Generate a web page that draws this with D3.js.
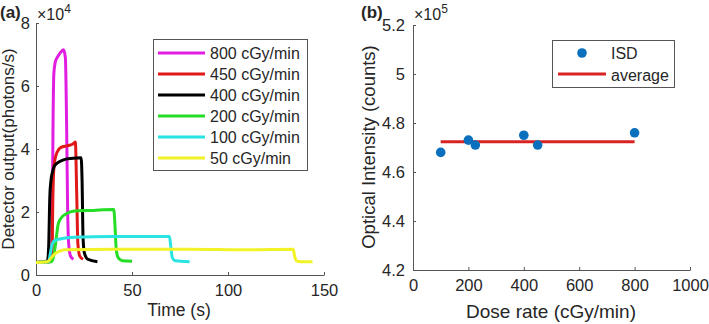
<!DOCTYPE html>
<html>
<head>
<meta charset="utf-8">
<script src="https://cdn.jsdelivr.net/npm/d3@7"></script>
<style>
  body { margin: 0; background: #fff; }
  text { font-family: "Liberation Sans", Arial, sans-serif; fill: #262626; }
  .axis path, .axis line { stroke: #555; stroke-width: 1; }
  .axis text { font-size: 16.5px; fill: #262626; }
</style>
</head>
<body>
<svg id="chart" width="709" height="324"></svg>
<script>
// panel (a): detector output vs time, values in units of 1e4 photons/s
var labelsA = ['800 cGy/min', '450 cGy/min', '400 cGy/min', '200 cGy/min', '100 cGy/min', '50 cGy/min']
var colorsA = ['#e21de2', '#e01818', '#000000', '#26dd26', '#2ae3e3', '#f2f229']

var time800 = [0, 7, 8, 8.5, 8.9, 9.3, 10, 11, 12, 13, 14.3, 15.3, 16, 16.5, 17, 18, 19.5]
var out800  = [0.4, 0.42, 0.5, 2, 5, 6.4, 6.75, 6.9, 7.0, 7.08, 7.15, 6.9, 4.5, 2.0, 1.0, 0.6, 0.5]

var time450 = [0, 7, 8.3, 8.8, 9.3, 10, 11, 13, 16, 19, 20.5, 21.2, 21.8, 22.8, 24.5]
var out450  = [0.4, 0.42, 0.6, 2.5, 3.4, 3.7, 3.9, 4.05, 4.1, 4.15, 4.22, 2.6, 1.0, 0.6, 0.5]

var time400 = [0, 6, 6.6, 7.2, 7.8, 8.5, 9.5, 11, 14, 18, 23.5, 24, 24.5, 25.2, 27, 32]
var out400  = [0.4, 0.45, 0.9, 2.5, 3.0, 3.25, 3.45, 3.55, 3.65, 3.7, 3.72, 3.0, 1.2, 0.7, 0.5, 0.42]

var time200 = [0, 8, 9, 10, 10.8, 11.5, 13, 16, 20, 25, 30, 35, 40.5, 41.2, 41.8, 42.8, 45, 50]
var out200  = [0.4, 0.42, 0.55, 0.9, 1.3, 1.6, 1.8, 1.95, 2.03, 2.05, 2.05, 2.07, 2.08, 1.5, 0.8, 0.55, 0.45, 0.44]

var time100 = [0, 6.5, 7.5, 8.5, 10, 13, 20, 40, 60, 69.5, 70.2, 71, 72.5, 80]
var out100  = [0.4, 0.42, 0.7, 1.0, 1.1, 1.15, 1.2, 1.22, 1.22, 1.22, 0.9, 0.55, 0.45, 0.42]

var time50 = [0, 6, 8, 10, 12, 15, 40, 80, 110, 134, 134.7, 135.7, 138, 144]
var out50  = [0.4, 0.42, 0.55, 0.68, 0.75, 0.8, 0.82, 0.82, 0.8, 0.82, 0.6, 0.45, 0.42, 0.42]

var timesA = [time800, time450, time400, time200, time100, time50]
var outsA = [out800, out450, out400, out200, out100, out50]

// panel (b): optical intensity vs dose rate, values in units of 1e5 counts
var doseRate = [100, 200, 225, 400, 450, 800]
var intensity = [4.68, 4.73, 4.71, 4.75, 4.71, 4.76]
var averageIntensity = 4.723

var svg = d3.select('#chart')

// ---------- panel (a) ----------
var xA = d3.scaleLinear().domain([0, 150]).range([36, 324])
var yA = d3.scaleLinear().domain([0, 8]).range([275, 23])

svg.append('g').attr('class', 'axis').attr('transform', 'translate(0,275)')
    .call(d3.axisBottom(xA).tickValues([0, 50, 100, 150]).tickSizeInner(-3).tickSizeOuter(0).tickPadding(9))
svg.append('g').attr('class', 'axis').attr('transform', 'translate(36,0)')
    .call(d3.axisLeft(yA).tickValues([0, 2, 4, 6, 8]).tickSizeInner(-3).tickSizeOuter(0).tickPadding(6))

var lineA = d3.line()
    .curve(d3.curveMonotoneX)
    .x(function (d) { return xA(d[0]) })
    .y(function (d) { return yA(d[1]) })

for (let i = 0; i < timesA.length; i++) {
    let pts = timesA[i].map(function (t, j) { return [t, outsA[i][j]] })
    svg.append('path')
        .datum(pts)
        .attr('d', lineA)
        .attr('fill', 'none')
        .attr('stroke', colorsA[i])
        .attr('stroke-width', 3)
        .attr('stroke-linejoin', 'round')
}

// legend (a)
var legA = svg.append('g')
legA.append('rect')
    .attr('x', 153.5).attr('y', 39.5).attr('width', 154).attr('height', 131)
    .attr('fill', '#fff').attr('stroke', '#555').attr('stroke-width', 1)
labelsA.forEach(function (lab, i) {
    let yy = 53 + i * 21
    legA.append('line')
        .attr('x1', 158).attr('x2', 205).attr('y1', yy).attr('y2', yy)
        .attr('stroke', colorsA[i]).attr('stroke-width', 3)
    legA.append('text')
        .attr('x', 210).attr('y', yy).attr('dy', '0.35em')
        .style('font-size', '16px')
        .text(lab)
})

svg.append('text').attr('x', 179).attr('y', 316).style('text-anchor', 'middle').style('font-size', '17.5px').text('Time (s)')
svg.append('text')
    .attr('transform', 'translate(14,149) rotate(-90)')
    .style('text-anchor', 'middle').style('font-size', '17px')
    .text('Detector output(photons/s)')

var expA = svg.append('text').attr('x', 37).attr('y', 20).style('font-size', '16px')
expA.append('tspan').text('×10')
expA.append('tspan').attr('dy', -7).style('font-size', '12px').text('4')

svg.append('text').attr('x', 0).attr('y', 18).style('font-size', '17px').style('font-weight', 'bold').text('(a)')

// ---------- panel (b) ----------
var xB = d3.scaleLinear().domain([0, 1000]).range([413, 690])
var yB = d3.scaleLinear().domain([4.2, 5.2]).range([270, 25])

svg.append('g').attr('class', 'axis').attr('transform', 'translate(0,270)')
    .call(d3.axisBottom(xB).tickValues([0, 200, 400, 600, 800, 1000]).tickFormat(d3.format('d'))
        .tickSizeInner(-3).tickSizeOuter(0).tickPadding(9))
svg.append('g').attr('class', 'axis').attr('transform', 'translate(413,0)')
    .call(d3.axisLeft(yB).tickValues([4.2, 4.4, 4.6, 4.8, 5.0, 5.2]).tickFormat(d3.format('~g'))
        .tickSizeInner(-3).tickSizeOuter(0).tickPadding(8))

svg.append('line')
    .attr('x1', xB(d3.min(doseRate))).attr('x2', xB(d3.max(doseRate)))
    .attr('y1', yB(averageIntensity)).attr('y2', yB(averageIntensity))
    .attr('stroke', '#d92222').attr('stroke-width', 3)

svg.selectAll('.dot')
    .data(doseRate)
    .enter().append('circle')
    .attr('class', 'dot')
    .attr('cx', function (d) { return xB(d) })
    .attr('cy', function (d, i) { return yB(intensity[i]) })
    .attr('r', 4.8)
    .attr('fill', '#0a6fbd')

// legend (b)
var legB = svg.append('g')
legB.append('rect')
    .attr('x', 552.5).attr('y', 40.5).attr('width', 122).attr('height', 47)
    .attr('fill', '#fff').attr('stroke', '#555').attr('stroke-width', 1)
legB.append('circle').attr('cx', 582).attr('cy', 53).attr('r', 4.8).attr('fill', '#0a6fbd')
legB.append('text').attr('x', 611).attr('y', 53).attr('dy', '0.35em').style('font-size', '16px').text('ISD')
legB.append('line').attr('x1', 558).attr('x2', 606).attr('y1', 74).attr('y2', 74)
    .attr('stroke', '#d92222').attr('stroke-width', 3)
legB.append('text').attr('x', 611).attr('y', 75).attr('dy', '0.35em').style('font-size', '16px').text('average')

svg.append('text').attr('x', 551).attr('y', 318).style('text-anchor', 'middle').style('font-size', '19px').text('Dose rate (cGy/min)')
svg.append('text')
    .attr('transform', 'translate(375,147) rotate(-90)')
    .style('text-anchor', 'middle').style('font-size', '18.5px')
    .text('Optical Intensity (counts)')

var expB = svg.append('text').attr('x', 414).attr('y', 20).style('font-size', '16px')
expB.append('tspan').text('×10')
expB.append('tspan').attr('dy', -7).style('font-size', '12px').text('5')

svg.append('text').attr('x', 361).attr('y', 18).style('font-size', '17px').style('font-weight', 'bold').text('(b)')
</script>
</body>
</html>
